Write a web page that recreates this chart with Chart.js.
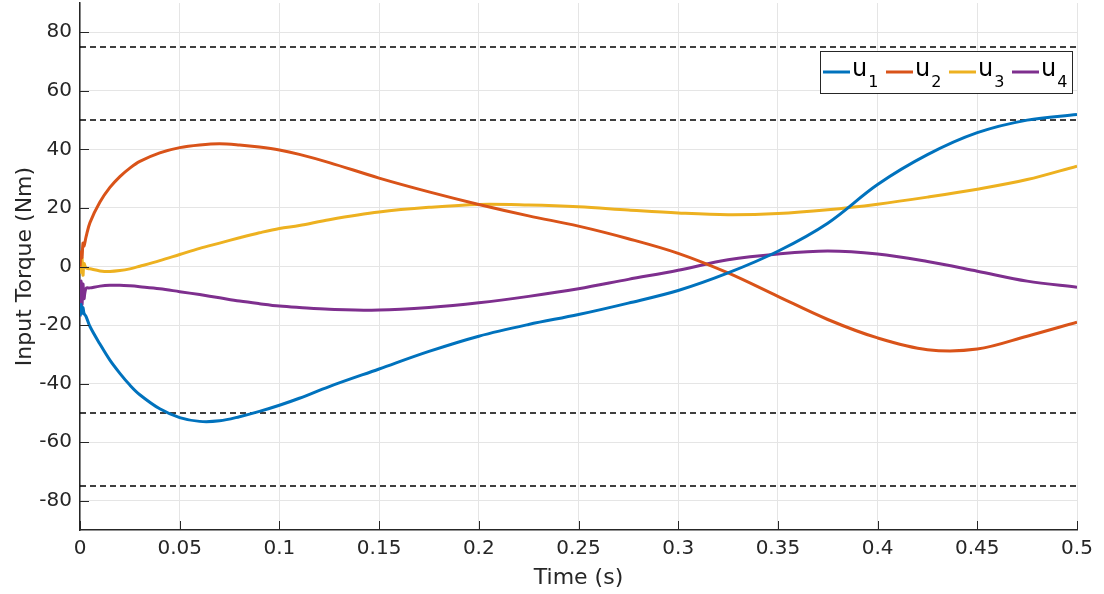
<!DOCTYPE html>
<html>
<head>
    <title>Input Torque</title>
    <script src="https://cdn.jsdelivr.net/npm/chart.js"></script>
    <style>
        body { margin: 0; background: #ffffff; }
    </style>
</head>
<body>
    <canvas id="myChart" width="1104" height="594"></canvas>

    <script>
        // time samples (s), denser at the start where the torques settle
        var times = [0, 0.0005, 0.001, 0.0015, 0.002, 0.003, 0.005, 0.01, 0.015, 0.02, 0.025, 0.03,
            0.04, 0.05, 0.06, 0.07, 0.08, 0.09, 0.1, 0.11, 0.125, 0.15, 0.175, 0.2, 0.225, 0.25,
            0.275, 0.3, 0.325, 0.35, 0.375, 0.4, 0.425, 0.45, 0.475, 0.5];

        // input torques (Nm)
        var u1 = [-17, -13, -16, -14, -16, -17, -20.5, -26.5, -32, -36.5, -40.5, -43.8,
            -48.6, -51.6, -52.9, -52.7, -51.3, -49.5, -47.4, -45, -41, -35, -29, -23.8, -19.8, -16.4,
            -12.5, -8.2, -2.2, 5.2, 14.8, 28, 38.2, 45.7, 50, 51.9];
        var u2 = [0, 5, 3, 8, 7, 10, 15, 22, 27, 30.7, 33.6, 35.9,
            38.8, 40.6, 41.5, 41.9, 41.5, 40.8, 39.8, 38.3, 35.5, 30.2, 25.5, 21.2, 17.3, 13.8,
            9.5, 4.5, -2.2, -10.2, -18.1, -24.4, -28.4, -28.2, -23.8, -19];
        var u3 = [4, -2, 3, -3, 1, -0.5, -0.8, -1.5, -1.7, -1.4, -0.8, 0.1,
            2, 4.1, 6.2, 8, 9.8, 11.5, 13, 14, 16, 18.6, 20.2, 21.2, 21, 20.4,
            19.3, 18.3, 17.7, 18.1, 19.4, 21.3, 23.7, 26.4, 29.7, 34.3];
        var u4 = [-17, -5, -13, -6, -11, -7.5, -7.3, -6.7, -6.4, -6.4, -6.6, -6.9,
            -7.6, -8.6, -9.6, -10.7, -11.8, -12.7, -13.5, -14, -14.6, -14.9, -14, -12.4, -10.2, -7.6,
            -4.4, -1.3, 2.3, 4.3, 5.3, 4.3, 1.7, -1.6, -5, -7.1];

        // saturation limits drawn as dashed lines
        var limitLevels = [75, 50, -50, -75];

        var seriesNames = ['u', 'u', 'u', 'u'];
        var seriesSubs = ['1', '2', '3', '4'];
        var seriesColors = ['#0072BD', '#D95319', '#EDB120', '#7E2F8E'];

        var xTicks = [0, 0.05, 0.1, 0.15, 0.2, 0.25, 0.3, 0.35, 0.4, 0.45, 0.5];
        var yTicks = [-80, -60, -40, -20, 0, 20, 40, 60, 80];

        var axisColor = '#262626';
        var gridColor = '#e5e5e5';

        function toPoints(values) {
            return times.map(function(t, i) { return { x: t, y: values[i] }; });
        }

        var datasets = [u1, u2, u3, u4].map(function(values, i) {
            return {
                label: seriesNames[i] + seriesSubs[i],
                data: toPoints(values),
                borderColor: seriesColors[i],
                borderWidth: 3,
                pointRadius: 0,
                fill: false,
                tension: 0.35
            };
        });

        limitLevels.forEach(function(level) {
            datasets.push({
                label: 'limit',
                data: [{ x: xTicks[0], y: level }, { x: xTicks[xTicks.length - 1], y: level }],
                borderColor: '#000000',
                borderWidth: 1.5,
                borderDash: [6, 4],
                pointRadius: 0,
                fill: false
            });
        });

        // MATLAB style inward tick marks
        var innerTicks = {
            id: 'innerTicks',
            afterDraw: function(chart) {
                var ctx = chart.ctx, area = chart.chartArea;
                var xs = chart.scales.x, ys = chart.scales.y;
                ctx.save();
                ctx.strokeStyle = axisColor;
                ctx.lineWidth = 1;
                ctx.beginPath();
                yTicks.forEach(function(v) {
                    var py = Math.round(ys.getPixelForValue(v)) + 0.5;
                    ctx.moveTo(area.left, py);
                    ctx.lineTo(area.left + 9, py);
                });
                xTicks.forEach(function(v) {
                    var px = Math.round(xs.getPixelForValue(v)) + 0.5;
                    ctx.moveTo(px, area.bottom);
                    ctx.lineTo(px, area.bottom - 9);
                });
                ctx.stroke();
                ctx.restore();
            }
        };

        // legend box inside the axes, with subscripted labels
        var boxLegend = {
            id: 'boxLegend',
            afterDatasetsDraw: function(chart) {
                var ctx = chart.ctx, area = chart.chartArea;
                var boxW = 252, boxH = 42, pitch = 63, lineLen = 27;
                var left = Math.round(area.right - 5 - boxW), top = 51;
                ctx.save();
                ctx.fillStyle = '#ffffff';
                ctx.fillRect(left, top, boxW, boxH);
                ctx.strokeStyle = axisColor;
                ctx.lineWidth = 1;
                ctx.strokeRect(left + 0.5, top + 0.5, boxW, boxH);
                var cy = top + 21;
                seriesNames.forEach(function(name, i) {
                    var x = left + 3 + i * pitch;
                    ctx.strokeStyle = seriesColors[i];
                    ctx.lineWidth = 3;
                    ctx.beginPath();
                    ctx.moveTo(x, cy);
                    ctx.lineTo(x + lineLen, cy);
                    ctx.stroke();
                    x += lineLen + 2;
                    ctx.fillStyle = '#000000';
                    ctx.textBaseline = 'alphabetic';
                    ctx.font = '24px "DejaVu Sans"';
                    ctx.fillText(name, x, cy + 4);
                    var w = ctx.measureText(name).width;
                    ctx.font = '16px "DejaVu Sans"';
                    ctx.fillText(seriesSubs[i], x + w + 1, cy + 15);
                });
                ctx.restore();
            }
        };

        var ctx = document.getElementById('myChart').getContext('2d');
        var chart = new Chart(ctx, {
            type: 'line',
            data: { datasets: datasets },
            options: {
                responsive: false,
                animation: false,
                events: [],
                layout: { padding: { left: 0, right: 27, top: 3, bottom: 0 } },
                plugins: {
                    legend: { display: false },
                    tooltip: { enabled: false }
                },
                scales: {
                    x: {
                        type: 'linear',
                        min: 0,
                        max: 0.5,
                        afterBuildTicks: function(scale) {
                            scale.ticks = xTicks.map(function(v) { return { value: v }; });
                        },
                        afterFit: function(scale) {
                            scale.height = 64;
                            scale.paddingLeft = 0;
                            scale.paddingRight = 0;
                        },
                        grid: { color: gridColor, drawTicks: false, tickLength: 0 },
                        border: { color: axisColor, width: 1.5 },
                        ticks: {
                            color: axisColor,
                            font: { family: 'DejaVu Sans', size: 20 },
                            padding: 7,
                            maxRotation: 0,
                            callback: function(v) { return String(+v.toFixed(2)); }
                        },
                        title: {
                            display: true,
                            text: 'Time (s)',
                            color: axisColor,
                            font: { family: 'DejaVu Sans', size: 22 },
                            padding: { top: 0, bottom: 3 }
                        }
                    },
                    y: {
                        type: 'linear',
                        min: -90,
                        max: 90,
                        afterBuildTicks: function(scale) {
                            scale.ticks = yTicks.map(function(v) { return { value: v }; });
                        },
                        afterFit: function(scale) {
                            scale.width = 80;
                            scale.paddingTop = 0;
                            scale.paddingBottom = 0;
                        },
                        grid: { color: gridColor, drawTicks: false, tickLength: 0 },
                        border: { color: axisColor, width: 1.5 },
                        ticks: {
                            color: axisColor,
                            font: { family: 'DejaVu Sans', size: 20 },
                            padding: 8,
                            callback: function(v) { return String(v); }
                        },
                        title: {
                            display: true,
                            text: 'Input Torque (Nm)',
                            color: axisColor,
                            font: { family: 'DejaVu Sans', size: 22 },
                            padding: { top: 12, bottom: 0 }
                        }
                    }
                }
            },
            plugins: [innerTicks, boxLegend]
        });
    </script>
</body>
</html>
